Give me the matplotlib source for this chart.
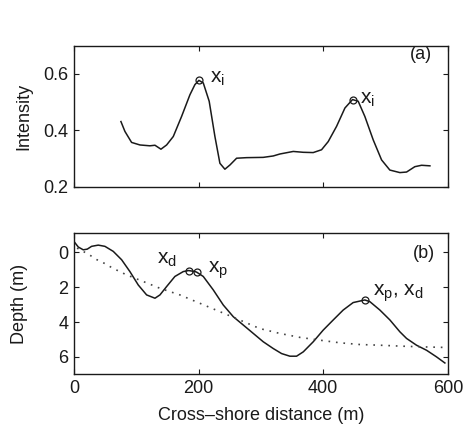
import matplotlib
matplotlib.use("Agg")
import matplotlib.pyplot as plt

plt.rcParams['font.family'] = ['Liberation Sans', 'DejaVu Sans']
plt.rcParams['mathtext.default'] = 'regular'

# Panel (a): intensity profile
int_x = [75.4, 81.8, 92.5, 105.9, 121.9, 130, 139.6, 148.7, 159.4, 172.7, 186.1, 194.1,
         200.5, 207.5, 217, 226.2, 234.2, 242.2, 250.3, 261, 277, 303.7, 319.8, 330.5,
         351.9, 367.9, 383.9, 397.3, 408, 421.4, 434.8, 447, 456.1, 466.8, 480.2, 493.6,
         506.9, 523, 533.7, 547, 557.8, 571.2]
int_y = [0.431, 0.396, 0.357, 0.348, 0.345, 0.347, 0.333, 0.348, 0.378, 0.449, 0.526, 0.562,
         0.577, 0.568, 0.503, 0.378, 0.283, 0.262, 0.277, 0.301, 0.303, 0.304, 0.309, 0.316,
         0.325, 0.322, 0.321, 0.331, 0.360, 0.414, 0.479, 0.509, 0.503, 0.449, 0.366, 0.295,
         0.259, 0.250, 0.252, 0.271, 0.276, 0.274]
peak_x = [200.5, 447]
peak_y = [0.577, 0.509]

# Panel (b): depth profile
dep_x = [0, 7, 15, 21.4, 28.3, 39, 49.7, 63.1, 76.5, 89.8, 103.2, 116.6, 130, 138, 148.7,
         162, 175.4, 184, 194.1, 196.8, 207.5, 223.5, 239.6, 255.6, 271.7, 287.7, 303.7,
         319.8, 333.2, 346.5, 357.2, 368, 384, 400, 416, 432, 448, 466.8, 474.9, 490.9,
         507, 523, 533.7, 549.7, 565.8, 581.8, 595.2]
dep_y = [-0.63, -0.31, -0.15, -0.19, -0.35, -0.42, -0.35, -0.06, 0.42, 1.10, 1.87, 2.44,
         2.63, 2.44, 1.96, 1.38, 1.10, 1.04, 1.10, 1.13, 1.38, 2.15, 3.02, 3.69, 4.17, 4.65,
         5.13, 5.52, 5.81, 5.96, 5.96, 5.71, 5.13, 4.46, 3.88, 3.31, 2.88, 2.73, 2.83, 3.31,
         3.88, 4.56, 4.94, 5.33, 5.62, 6.0, 6.35]
eq_x = [5, 24, 36.4, 49.7, 62, 84.5, 111.2, 138, 170, 202, 234, 266, 298, 330, 362.6,
        394.7, 426.5, 459, 491, 523, 555, 598]
eq_y = [-0.25, 0.12, 0.41, 0.64, 0.90, 1.29, 1.67, 2.06, 2.44, 2.92, 3.40, 3.88, 4.37,
        4.65, 4.88, 5.04, 5.19, 5.29, 5.33, 5.38, 5.42, 5.46]
mark_x = [184, 196.8, 466.8]
mark_y = [1.04, 1.13, 2.73]

x_ticks = [0, 200, 400, 600]
int_ticks = [0.2, 0.4, 0.6]
dep_ticks = [0, 2, 4, 6]

col = '#1a1a1a'
fs = 13
fig = plt.figure(figsize=(4.68, 4.25), dpi=100)
ax1 = fig.add_axes([0.158, 0.5607, 0.799, 0.3318])
ax2 = fig.add_axes([0.158, 0.1193, 0.799, 0.3318])

for ax in (ax1, ax2):
    ax.tick_params(direction='in', top=True, right=True, length=3.5, width=0.8,
                   labelsize=fs, colors=col, pad=4)
    for s in ax.spines.values():
        s.set_linewidth(1.0)
        s.set_color(col)
    ax.set_xlim(0, 600)
    ax.set_xticks(x_ticks)

ax1.plot(int_x, int_y, color=col, lw=1.1)
ax1.plot(peak_x, peak_y, 'o', mfc='none', mec=col, ms=5, mew=0.9)
ax1.set_ylim(0.2, 0.7)
ax1.set_yticks(int_ticks)
ax1.set_yticklabels(['0.2', '0.4', '0.6'])
ax1.set_xticklabels([])
ax1.set_ylabel('Intensity', fontsize=fs, color=col)
ax1.yaxis.set_label_coords(-0.11, 0.5)
ax1.text(219, 0.568, r'$x_i$', fontsize=15, color=col, ha='left', va='baseline')
ax1.text(458.8, 0.494, r'$x_i$', fontsize=15, color=col, ha='left', va='baseline')
ax1.text(574, 0.669, '(a)', fontsize=fs, color=col, ha='right', va='center')

ax2.plot(dep_x, dep_y, color=col, lw=1.1)
ax2.plot(eq_x, eq_y, color='#444444', lw=1.2, linestyle=(0, (1, 3.5)))
ax2.plot(mark_x, mark_y, 'o', mfc='none', mec=col, ms=5, mew=0.9)
ax2.set_ylim(7, -1.1)
ax2.set_yticks(dep_ticks)
ax2.set_ylabel('Depth (m)', fontsize=fs, color=col)
ax2.yaxis.set_label_coords(-0.123, 0.5)
ax2.set_xlabel('Cross\u2013shore distance (m)', fontsize=fs, color=col)
ax2.xaxis.set_label_coords(0.5, -0.235)
ax2.text(133.7, 0.62, r'$x_d$', fontsize=15, color=col, ha='left', va='baseline')
ax2.text(215.5, 1.19, r'$x_p$', fontsize=15, color=col, ha='left', va='baseline')
ax2.text(480, 2.5, r'$x_p$, $x_d$', fontsize=15, color=col, ha='left', va='baseline')
ax2.text(579, 0.04, '(b)', fontsize=fs, color=col, ha='right', va='center')

fig.savefig('out.png', dpi=100, facecolor='white')
